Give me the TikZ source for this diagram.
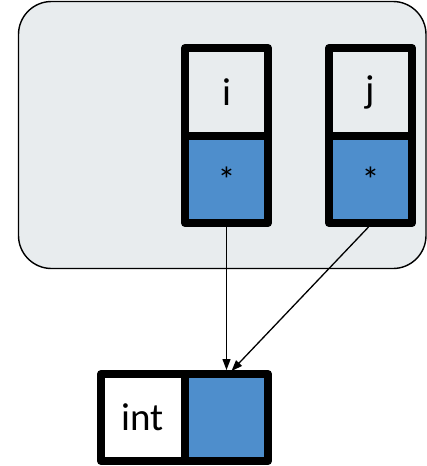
\documentclass[tikz,border=0pt]{standalone}
\usepackage{fontspec}
\setmainfont{Carlito}
\usetikzlibrary{arrows.meta}
\definecolor{scopegray}{HTML}{E8ECEE}
\definecolor{ptrblue}{HTML}{4E8ECC}

\begin{document}
\begin{tikzpicture}[x=1pt,y=-1pt,
  cell/.style={draw=black, line width=8pt, line join=round, rectangle, inner sep=0pt, minimum width=83pt, minimum height=87pt, font=\fontsize{39}{44}\selectfont},
  namecell/.style={cell, fill=scopegray},
  ptrcell/.style={cell, fill=ptrblue, font=\fontsize{36}{40}\selectfont},
  link/.style={-{Triangle[length=11pt,width=8pt]}, line width=1.3pt}]
  \useasboundingbox (0,0) rectangle (427,466);
  % the scope
  \filldraw [fill=scopegray, draw=black, line width=1.4pt, rounded corners=33pt] (18.5,1.5) rectangle (426,268.5);
  % pointer variables
  \node [namecell, minimum height=88pt] (i) at (226.5,92) {i};
  \node [ptrcell] (iptr) at (226.5,179.5) {*};
  \node [namecell, minimum height=88pt] (j) at (370.5,92) {j};
  \node [ptrcell] (jptr) at (370.5,179.5) {*};
  % the int
  \node [cell, fill=white, minimum width=84pt] (inttype) at (143,417.5) {int};
  \node [cell, fill=ptrblue] (intval) at (226.5,417.5) {};
  \draw [link] (iptr.south) -- (intval.north);
  \draw [link] ([xshift=-2pt]jptr.south) -- ([xshift=5pt,yshift=-1pt]intval.north);
\end{tikzpicture}
\end{document}
